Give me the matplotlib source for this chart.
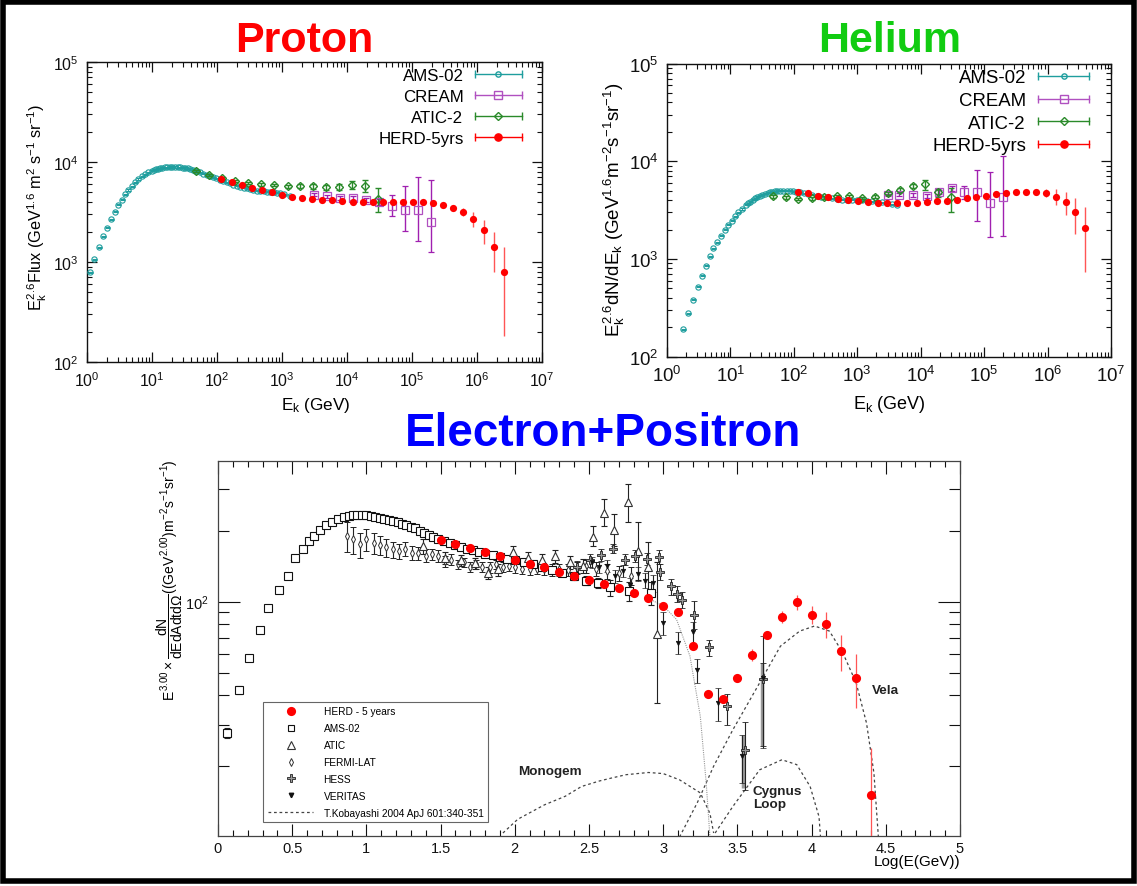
import numpy as np
import matplotlib
matplotlib.use("Agg")
import matplotlib.pyplot as plt
from matplotlib.lines import Line2D
from matplotlib.legend_handler import HandlerLine2D
from matplotlib.patches import Rectangle
from matplotlib.ticker import LogLocator, LogFormatterMathtext, MultipleLocator, FormatStrFormatter, NullFormatter

plt.rcParams['font.family'] = ['Liberation Sans', 'DejaVu Sans']
plt.rcParams['mathtext.fontset'] = 'custom'
plt.rcParams['mathtext.rm'] = 'Liberation Sans'
plt.rcParams['mathtext.it'] = 'Liberation Sans'
plt.rcParams['mathtext.sf'] = 'Liberation Sans'
plt.rcParams['mathtext.bf'] = 'Liberation Sans:bold'

# ---------------- Proton data ----------------
p_ams_E = [1.1, 1.27, 1.53, 1.74, 2.04, 2.36, 2.66, 3.03, 3.4, 3.84, 4.32, 4.87, 5.48, 6.16, 6.93, 7.8, 8.77,
           9.9, 10.7, 11.6, 12.4, 13.3, 14.5, 15.8, 17.2, 18.9, 20.6, 22.6, 24.7, 27, 29.5, 32.2, 35.2, 38.5,
           42, 46, 50, 54.6, 61, 69.6, 78, 87.7, 98, 111, 124, 141, 158, 179, 202, 227, 256, 288, 325, 363,
           410, 461, 520, 585, 660, 740, 830, 938, 1080, 1350]
p_ams_F = [790, 1070, 1410, 1810, 2200, 2690, 3180, 3720, 4200, 4750, 5250, 5710, 6270, 6760, 7190, 7530, 7890,
           8190, 8330, 8450, 8560, 8650, 8780, 8850, 8890, 8910, 8920, 8910, 8890, 8850, 8790, 8710, 8620, 8510,
           8350, 8190, 8040, 7890, 7650, 7470, 7250, 7030, 6840, 6650, 6450, 6270, 6100, 5930, 5790, 5660, 5550,
           5450, 5340, 5250, 5180, 5130, 5080, 5050, 5000, 4970, 4920, 4860, 4750, 4600]

p_cream_E = [3060, 4910, 7700, 12400, 19800, 30700, 49300, 77100, 124000, 193000]
p_cream_F = [4710, 4540, 4370, 4370, 4170, 3950, 3600, 3330, 3330, 2490]
p_cream_lo = [4550, 4390, 4200, 4180, 3950, 3700, 2900, 2060, 1630, 1250]
p_cream_hi = [4870, 4700, 4550, 4570, 4400, 4220, 4680, 5710, 7030, 6610]

p_atic_E = [47.7, 76, 121, 190, 305, 478, 758, 1220, 1900, 3020, 4780, 7520, 12000, 19000, 30000]
p_atic_F = [8070, 7410, 6920, 6510, 6170, 5980, 5890, 5710, 5710, 5710, 5580, 5580, 5890, 5710, 4270]
p_atic_lo = [7900, 7250, 6750, 6350, 6000, 5800, 5700, 5500, 5450, 5400, 5250, 5200, 5370, 4970, 3190]
p_atic_hi = [8240, 7570, 7090, 6670, 6340, 6160, 6080, 5920, 5970, 6020, 5910, 5960, 6500, 6650, 5460]

p_herd_E = [117, 168, 240, 343, 490, 700, 1000, 1430, 2040, 2920, 4170, 5960, 8510, 12200, 17400, 24800,
            35500, 50700, 72400, 104000, 148000, 211000, 302000, 432000, 617000, 881000, 1260000, 1800000,
            2570000]
p_herd_F = [6760, 6360, 5930, 5500, 5210, 4970, 4710, 4500, 4370, 4270, 4200, 4140, 4070, 4010, 4010, 4010,
            4010, 3970, 4010, 4010, 4010, 3920, 3720, 3490, 3190, 2690, 2090, 1420, 789]
p_herd_elo = [60, 60, 55, 50, 50, 45, 45, 45, 45, 45, 45, 45, 45, 45, 50, 50, 55, 60, 70, 90, 110, 150, 170,
              230, 330, 470, 580, 620, 607]
p_herd_ehi = [60, 60, 55, 50, 50, 45, 45, 45, 45, 45, 45, 45, 45, 45, 50, 50, 55, 60, 70, 90, 110, 150, 170,
              225, 300, 500, 560, 590, 611]

# ---------------- Helium data ----------------
h_ams_E = [1.77, 2.17, 2.54, 3.05, 3.52, 4.08, 4.71, 5.37, 6.22, 7.11, 8.22, 9.27, 10.5, 11.8, 13.3, 15.1,
           17.4, 18.8, 20.4, 22.3, 24.4, 26.7, 29.3, 32, 35.1, 38.5, 42.2, 46, 50.5, 55, 60.6, 68, 77.3, 87,
           98.2, 110, 125, 145, 169, 195, 230, 270, 330, 400, 475, 570, 683, 820, 982, 1180, 1410, 1700, 2030,
           2450, 2920, 3500, 4290]
h_ams_F = [192, 278, 383, 521, 675, 854, 1065, 1288, 1483, 1734, 1996, 2230, 2466, 2735, 3006, 3250, 3572,
           3720, 3861, 4020, 4180, 4320, 4445, 4560, 4660, 4750, 4820, 4880, 4930, 4970, 5000, 5010, 5000,
           4970, 4930, 4880, 4820, 4730, 4630, 4540, 4445, 4360, 4275, 4190, 4110, 4060, 4020, 4020, 4020,
           3990, 3955, 3910, 3861, 3800, 3742, 3650, 3572]

h_cream_E = [3100, 4610, 7670, 12500, 19700, 30900, 48400, 78500, 124000, 195000]
h_cream_F = [4520, 4550, 4520, 4415, 4890, 5300, 4820, 4820, 3742, 4275]
h_cream_lo = [4380, 4400, 4350, 4240, 4650, 5000, 4110, 2466, 1667, 1706]
h_cream_hi = [4660, 4700, 4690, 4590, 5130, 5600, 5540, 8200, 7710, 11250]

h_atic_E = [47.5, 75.3, 118, 191, 299, 474, 751, 1175, 1910, 3030, 4730, 7500, 11700, 19000, 29800]
h_atic_F = [4380, 4275, 4110, 4180, 4275, 4380, 4380, 4210, 4350, 4700, 5080, 5540, 5860, 4820, 4275]
h_atic_lo = [4250, 4150, 3990, 4050, 4150, 4250, 4250, 4080, 4200, 4530, 4850, 5270, 5115, 4275, 3055]
h_atic_hi = [4510, 4400, 4230, 4310, 4400, 4510, 4510, 4340, 4500, 4870, 5310, 5810, 6490, 5210, 5300]

h_herd_E = [118, 169, 242, 346, 495, 710, 1016, 1455, 2084, 2985, 4276, 6124, 8770, 12560, 17990, 25760,
            36900, 52840, 75680, 108400, 155200, 222300, 318400, 456000, 653100, 935400, 1340000, 1919000,
            2748000, 3936000]
h_herd_F = [4820, 4700, 4445, 4275, 4110, 4020, 3925, 3800, 3770, 3742, 3742, 3770, 3770, 3830, 3890, 3955,
            4020, 4180, 4275, 4380, 4590, 4700, 4820, 4890, 4890, 4740, 4350, 3800, 3006, 2060]
h_herd_elo = [50, 50, 50, 50, 50, 50, 50, 50, 50, 50, 50, 50, 50, 50, 50, 50, 50, 50, 60, 70, 100, 140, 190,
              240, 330, 460, 780, 980, 1203, 1319]
h_herd_ehi = [50, 50, 50, 50, 50, 50, 50, 50, 50, 50, 50, 50, 50, 50, 50, 50, 50, 50, 60, 70, 100, 140, 190,
              240, 330, 520, 860, 1020, 1174, 1320]

# ---------------- Electron + positron data (x = log10 E/GeV) ----------------
e_herd_x = [1.5, 1.6, 1.7, 1.8, 1.9, 2.0, 2.1, 2.2, 2.3, 2.4, 2.5, 2.6, 2.7, 2.8, 2.9, 3.0, 3.1, 3.2, 3.3, 3.4,
            3.5, 3.6, 3.7, 3.8, 3.9, 4.0, 4.1, 4.2, 4.3, 4.4]
e_herd_y = [183, 175, 169, 163, 156, 151, 145, 140, 134, 128.5, 123.6, 118.9, 114.3, 109.2, 103.8, 95.8, 90.3,
            64.7, 40.7, 38.7, 47.3, 59.5, 72.4, 85.9, 99.4, 87.4, 80, 61.5, 47.6, 15.1]
e_herd_elo = [2, 2, 2, 2, 2, 2, 2, 2, 2, 2, 2, 2, 2, 2, 2, 2, 2, 1.5, 1, 1, 1.8, 3.5, 2, 5, 7.4, 7.4, 9.7,
              10.8, 12.2, 5.1]
e_herd_ehi = [2, 2, 2, 2, 2, 2, 2, 2, 2, 2, 2, 2, 2, 2, 2, 2, 2, 1.5, 1, 1, 1.8, 3.5, 2, 5, 7, 8.4, 10.3,
              10.6, 12.1, 8.7]

e_ams_x = [0.06, 0.14, 0.21, 0.28, 0.34, 0.41, 0.47, 0.52, 0.57, 0.61, 0.65, 0.69, 0.73, 0.77, 0.81, 0.85,
           0.88, 0.91, 0.94, 0.97, 1.0, 1.03, 1.06, 1.09, 1.12, 1.15, 1.18, 1.21, 1.24, 1.27, 1.30, 1.33, 1.36,
           1.39, 1.42, 1.45, 1.48, 1.52, 1.56, 1.60, 1.64, 1.68, 1.72, 1.76, 1.80, 1.85, 1.90, 1.95, 2.00,
           2.06, 2.12, 2.18, 2.25, 2.32, 2.40, 2.48, 2.56, 2.64, 2.77, 2.92]
e_ams_y = [27.7, 42.1, 57.5, 75.5, 93.9, 112, 129, 153, 167, 181, 191, 201, 211, 218, 224, 228, 231, 233, 234,
           234, 233, 231, 229, 227, 225, 223, 220, 217, 214, 211, 208, 205, 200, 196, 192, 188, 185, 181, 177,
           174, 171, 168, 165, 162, 160, 158, 155, 152, 150, 147, 144, 141, 136, 132, 128, 123, 120, 115,
           111, 109]
e_ams_err = [1.3, 1.6, 1.8, 1.5, 1.5, 1.2, 1, 1, 1, 1, 1, 1, 1, 1, 1, 1, 1, 1, 1, 1, 1, 1, 1, 1, 1, 1, 1, 1,
             1, 1, 1, 1, 1, 1, 1, 1, 1, 1, 1.5, 1.5, 1.5, 1.5, 1.5, 2, 2, 2, 2, 2, 2.5, 2.5, 3, 3, 3, 3.5, 4,
             5, 6, 9, 10, 12]

e_atic_x = [1.38, 1.53, 1.64, 1.73, 1.82, 1.89, 1.99, 2.09, 2.18, 2.27, 2.37, 2.46, 2.53, 2.60, 2.67, 2.76,
            2.83, 2.90, 2.96]
e_atic_y = [172, 154, 150, 146, 133, 137, 162, 154, 151, 156, 147, 142, 189, 237, 202, 266, 164, 140, 73]
e_atic_elo = [12, 9, 8, 8, 8, 8, 10, 9, 9, 10, 10, 10, 17, 27, 30, 49, 40, 35, 36]
e_atic_ehi = [12, 9, 8, 8, 8, 8, 10, 9, 9, 10, 10, 10, 20, 37, 33, 49, 53, 40, 74]

e_fermi_x = [0.87, 0.91, 0.96, 1.00, 1.05, 1.09, 1.13, 1.18, 1.22, 1.26, 1.31, 1.35, 1.40, 1.44, 1.48, 1.53,
             1.57, 1.62, 1.66, 1.70, 1.74, 1.78, 1.83, 1.87, 1.92, 1.96, 2.00, 2.05, 2.10, 2.15, 2.20, 2.25,
             2.30, 2.36, 2.42, 2.48, 2.55, 2.62, 2.70, 2.78]
e_fermi_y = [191, 184, 175, 184, 178, 174, 170, 167, 164, 168, 161, 161, 157, 159, 156, 149, 151, 144, 147,
             141, 144, 141, 140, 144, 141, 142, 140, 138, 137, 138, 137, 136, 137, 136, 139, 142, 138, 135,
             132, 129]
e_fermi_err = [28, 24, 21, 20, 18, 16, 15, 13, 12, 12, 11, 10, 10, 9, 9, 8, 8, 7, 7, 7, 7, 7, 7, 7, 7, 7, 7,
               7, 7, 7, 7, 8, 8, 8, 8, 9, 9, 10, 10, 11]

e_hess_x = [2.42, 2.51, 2.58, 2.66, 2.74, 2.81, 2.89, 2.97, 2.98, 3.05, 3.09, 3.13, 3.21, 3.31, 3.43, 3.55, 3.67]
e_hess_y = [141, 150, 158, 168, 151, 157, 152, 155, 134, 116, 108, 102, 88, 64, 36, 23.5, 47]
e_hess_elo = [8, 9, 9, 7, 8, 9, 9, 10, 10, 9, 8, 8, 11.5, 5, 6, 7.6, 22.7]
e_hess_ehi = [8, 9, 9, 7, 8, 9, 9, 10, 10, 9, 8, 8, 13, 5, 4.4, 7.3, 8]
e_hess_sys_x = [3.535, 3.665]
e_hess_sys_lo = [16.1, 24.3]
e_hess_sys_hi = [27.0, 55.0]

e_ver_x = [2.52, 2.57, 2.62, 2.675, 2.73, 2.775, 2.83, 2.88, 2.93, 3.0, 3.1, 3.2, 3.23, 3.37, 3.53, 3.67]
e_ver_y = [147, 140, 142, 128, 135, 118, 131, 123, 120, 81, 67, 74, 51, 37, 22, 47.5]
e_ver_elo = [8, 8, 8, 8, 8, 8, 9, 9, 10, 9, 7, 8, 6, 6, 5, 23.5]
e_ver_ehi = [8, 8, 8, 8, 8, 8, 9, 9, 10, 9, 7, 8, 6, 6, 5, 24]

kob_mono_x = [1.92, 2.02, 2.2, 2.34, 2.45, 2.57, 2.65, 2.75, 2.9, 3.0, 3.11, 3.25, 3.315, 3.34]
kob_mono_y = [10.4, 11.9, 13.7, 14.9, 16.4, 17.3, 17.8, 18.4, 18.8, 18.6, 17.5, 15.4, 12.6, 10.4]
kob_vela_x = [3.11, 3.23, 3.34, 3.47, 3.65, 3.79, 3.92, 4.02, 4.12, 4.21, 4.30, 4.37, 4.42, 4.45]
kob_vela_y = [10, 14.0, 20, 28.6, 45.2, 64.7, 75, 78.8, 75, 60.7, 45.2, 30.5, 18.7, 10]
kob_cyg_x = [3.35, 3.47, 3.65, 3.80, 3.90, 3.99, 4.05, 4.06]
kob_cyg_y = [10.4, 13.5, 19.3, 21.3, 20.3, 16.4, 12.2, 10]
kob_tot_x = [2.93, 3.0, 3.09, 3.18, 3.25, 3.29, 3.315]
kob_tot_y = [101, 96, 84, 58.8, 32.6, 16.9, 10]

# ---------------- colours ----------------
C_AMS = '#1f9e9e'
C_CREAM = '#a020b0'
C_ATIC = '#2a8a2a'
C_HERD = '#ff0000'
C_HERD_E = '#ff5555'

W, H = 1137, 887
fig = plt.figure(figsize=(W / 100, H / 100), dpi=100)
fig.patch.set_facecolor('white')


def px_axes(l, t, r, b):
    return fig.add_axes([l / W, 1 - b / H, (r - l) / W, (b - t) / H])


def setup_gp(ax, fs):
    ax.set_xscale('log')
    ax.set_yscale('log')
    ax.set_xlim(1, 1e7)
    ax.set_ylim(1e2, 1e5)
    for axis in (ax.xaxis, ax.yaxis):
        axis.set_major_locator(LogLocator(base=10, numticks=20))
        axis.set_minor_locator(LogLocator(base=10, subs=np.arange(2, 10), numticks=20))
        axis.set_major_formatter(LogFormatterMathtext())
        axis.set_minor_formatter(NullFormatter())
    ax.tick_params(which='both', direction='in', top=True, right=True, labelsize=fs, colors='#111')
    ax.tick_params(which='major', length=7, width=0.9)
    ax.tick_params(which='minor', length=3.5, width=0.8)
    ax.tick_params(axis='x', pad=6)
    ax.tick_params(axis='y', pad=6)
    for s in ax.spines.values():
        s.set_linewidth(1.0)
        s.set_color('#111')


def gp_handle(color, marker, mfc, ms):
    caps = Line2D([], [], color=color, lw=1.0, marker='|', ms=6, mew=1.0)
    mk = Line2D([], [], color=color, lw=0, marker=marker, mfc=mfc, mec=color, ms=ms, mew=1.0)
    return (caps, mk)


def gp_panel(ax, ams, cream, atic, herd, fs_leg, leg_anchor, hl, lsp):
    (aE, aF), (cE, cF, clo, chi), (tE, tF, tlo, thi), (hE, hF, hlo, hhi) = ams, cream, atic, herd
    aF = np.array(aF)
    ax.errorbar(aE, aF, yerr=aF * 0.012, fmt='o', ms=3.8, mfc='none', mec=C_AMS, mew=0.8,
                ecolor=C_AMS, elinewidth=0.7, capsize=1.8, zorder=3)
    cF = np.array(cF)
    ax.errorbar(cE, cF, yerr=[cF - np.array(clo), np.array(chi) - cF], fmt='s', ms=5.5, mfc='none',
                mec='#b050c0', mew=0.9, ecolor=C_CREAM, elinewidth=1.0, capsize=2.5, zorder=4)
    tF = np.array(tF)
    ax.errorbar(tE, tF, yerr=[tF - np.array(tlo), np.array(thi) - tF], fmt='D', ms=3.8, mfc='none',
                mec=C_ATIC, mew=1.0, ecolor=C_ATIC, elinewidth=1.0, capsize=2.5, zorder=4)
    ax.errorbar(hE, hF, yerr=[hlo, hhi], fmt='o', ms=5.2, mfc=C_HERD, mec=C_HERD, mew=0,
                ecolor=C_HERD_E, elinewidth=1.0, capsize=2.5, zorder=5)
    handles = [gp_handle(C_AMS, 'o', 'none', 3.8), gp_handle('#b050c0', 's', 'none', 5.5),
               gp_handle(C_ATIC, 'D', 'none', 3.8), gp_handle(C_HERD, 'o', C_HERD, 5.2)]
    hmap = {h[0]: HandlerLine2D(numpoints=2, marker_pad=0) for h in handles}
    ax.legend(handles, ['AMS-02', 'CREAM', 'ATIC-2', 'HERD-5yrs'], loc='upper right',
              bbox_to_anchor=leg_anchor, borderaxespad=0, borderpad=0, frameon=False,
              markerfirst=False, numpoints=1, fontsize=fs_leg, handlelength=hl, handletextpad=0.65,
              labelspacing=lsp, handler_map=hmap)


def set_label_center(axis, x, y):
    axis.label.set_ha('center')
    axis.label.set_va('center')
    axis.set_label_coords(x, y)


# ---------------- Proton panel ----------------
axp = px_axes(87, 63, 542, 363)
setup_gp(axp, 11.4)
gp_panel(axp, (p_ams_E, p_ams_F), (p_cream_E, p_cream_F, p_cream_lo, p_cream_hi),
         (p_atic_E, p_atic_F, p_atic_lo, p_atic_hi), (p_herd_E, p_herd_F, p_herd_elo, p_herd_ehi),
         12.2, (0.956, 0.98), 2.8, 0.36)
axp.set_ylabel(r'$E_k^{2.6}$Flux (GeV$^{1.6}$ m$^2$ s$^{-1}$ sr$^{-1}$)', fontsize=11.7)
set_label_center(axp.yaxis, -0.108, 0.517)
axp.set_xlabel(r'E$_k$ (GeV)', fontsize=12.3)
set_label_center(axp.xaxis, 0.503, -0.143)

# ---------------- Helium panel ----------------
axh = px_axes(667, 64.6, 1111, 357.7)
setup_gp(axh, 13.4)
gp_panel(axh, (h_ams_E, h_ams_F), (h_cream_E, h_cream_F, h_cream_lo, h_cream_hi),
         (h_atic_E, h_atic_F, h_atic_lo, h_atic_hi), (h_herd_E, h_herd_F, h_herd_elo, h_herd_ehi),
         13.4, (0.951, 0.98), 2.75, 0.3)
axh.set_ylabel(r'$E_k^{2.6}$dN/dE$_k$ (GeV$^{1.6}$m$^{-2}$s$^{-1}$sr$^{-1}$)', fontsize=13.5)
set_label_center(axh.yaxis, -0.119, 0.504)
axh.set_xlabel(r'E$_k$ (GeV)', fontsize=13)
set_label_center(axh.xaxis, 0.502, -0.161)

# ---------------- Electron + positron panel ----------------
axe = px_axes(218, 462, 960, 837)
axe.set_yscale('log')
axe.set_xlim(0, 5)
axe.set_ylim(10.1, 396)
axe.xaxis.set_major_locator(MultipleLocator(0.5))
axe.xaxis.set_minor_locator(MultipleLocator(0.1))
axe.xaxis.set_major_formatter(FormatStrFormatter('%g'))
axe.yaxis.set_major_locator(LogLocator(base=10, numticks=10))
axe.yaxis.set_minor_locator(LogLocator(base=10, subs=np.arange(2, 10), numticks=10))
axe.yaxis.set_major_formatter(LogFormatterMathtext())
axe.yaxis.set_minor_formatter(NullFormatter())
axe.tick_params(which='both', direction='in', top=True, right=True, labelsize=10.5, colors='#111')
axe.tick_params(axis='x', which='major', length=9, width=0.8, pad=3.5)
axe.tick_params(axis='x', which='minor', length=4.5, width=0.8)
axe.tick_params(axis='y', which='major', length=16, width=0.8, pad=7)
axe.tick_params(axis='y', which='minor', length=8, width=0.8)
for s in axe.spines.values():
    s.set_linewidth(0.9)
    s.set_color('#444')

kls = (0, (2.2, 2.2))
axe.plot(kob_mono_x, kob_mono_y, color='#444', lw=0.9, ls=kls, zorder=1)
axe.plot(kob_vela_x, kob_vela_y, color='#444', lw=0.9, ls=kls, zorder=1)
axe.plot(kob_cyg_x, kob_cyg_y, color='#444', lw=0.9, ls=kls, zorder=1)
axe.plot(kob_tot_x, kob_tot_y, color='#999', lw=0.8, ls=(0, (1, 1)), zorder=1)

axe.vlines(e_hess_sys_x, e_hess_sys_lo, e_hess_sys_hi, color='#999', lw=2.5, zorder=2)

ek = dict(ecolor='#222', elinewidth=0.8, capsize=2, capthick=0.8, zorder=3)
axe.errorbar(e_fermi_x, e_fermi_y, yerr=e_fermi_err, fmt='d', ms=4, mfc='white', mec='#333', mew=0.7, **ek)
axe.errorbar(e_ams_x, e_ams_y, yerr=e_ams_err, fmt='s', ms=5.5, mfc='white', mec='#111', mew=0.8, **ek)
axe.errorbar(e_atic_x, e_atic_y, yerr=[e_atic_elo, e_atic_ehi], fmt='^', ms=6, mfc='white', mec='#333',
             mew=0.8, **ek)
axe.errorbar(e_hess_x, e_hess_y, yerr=[e_hess_elo, e_hess_ehi], fmt='P', ms=5.5, mfc='#999', mec='#222',
             mew=0.6, **ek)
axe.errorbar(e_ver_x, e_ver_y, yerr=[e_ver_elo, e_ver_ehi], fmt='v', ms=3.2, mfc='#111', mec='#111',
             mew=0.5, **ek)
axe.errorbar(e_herd_x, e_herd_y, yerr=[e_herd_elo, e_herd_ehi], fmt='o', ms=6.6, mfc='#ff0000', mec='#ff0000',
             mew=0, ecolor='#ff5555', elinewidth=0.9, capsize=2, capthick=0.9, zorder=6)

axe.text(2.02, 19.0, 'Monogem', fontsize=9.7, fontweight='bold', ha='left', va='center', color='#222')
axe.text(3.605, 14.7, 'Cygnus\nLoop', fontsize=9.7, fontweight='bold', ha='left', va='center',
         color='#222', linespacing=1.1)
axe.text(4.405, 42.1, 'Vela', fontsize=9.7, fontweight='bold', ha='left', va='center', color='#222')

eh = [Line2D([], [], ls='none', marker='o', mfc='#ff0000', mec='#ff0000', ms=6.6, mew=0),
      Line2D([], [], ls='none', marker='s', mfc='white', mec='#111', ms=5, mew=0.8),
      Line2D([], [], ls='none', marker='^', mfc='white', mec='#333', ms=5.5, mew=0.8),
      Line2D([], [], ls='none', marker='d', mfc='white', mec='#333', ms=4, mew=0.7),
      Line2D([], [], ls='none', marker='P', mfc='#999', mec='#222', ms=5.5, mew=0.6),
      Line2D([], [], ls='none', marker='v', mfc='#111', mec='#111', ms=3.2),
      Line2D([], [], color='#444', lw=0.9, ls=kls)]
el = ['HERD - 5 years', 'AMS-02', 'ATIC', 'FERMI-LAT', 'HESS', 'VERITAS', 'T.Kobayashi 2004 ApJ 601:340-351']
leg = axe.legend(eh, el, loc='lower left', bbox_to_anchor=(0.061, 0.0365), borderaxespad=0, borderpad=0.45,
                 fontsize=7.3, handlelength=4.5, handletextpad=1.0, labelspacing=0.68, numpoints=1,
                 fancybox=False, framealpha=1, edgecolor='#666')
leg.get_frame().set_linewidth(0.8)

axe.set_ylabel(r'$E^{3.00}\times\dfrac{dN}{dEdAdtd\Omega}((GeV^{2.00})m^{-2}s^{-1}sr^{-1})$', fontsize=10)
set_label_center(axe.yaxis, -0.0647, 0.685)
axe.set_xlabel('Log(E(GeV))', fontsize=11)
axe.xaxis.label.set_ha('right')
axe.xaxis.label.set_va('center')
axe.xaxis.set_label_coords(1.0, -0.067)

# ---------------- titles and border ----------------
fig.text(304 / W, 1 - 52 / H, 'Proton', color='#ff0000', fontsize=31, fontweight='bold', ha='center',
         va='baseline')
fig.text(890 / W, 1 - 52 / H, 'Helium', color='#11cc11', fontsize=31, fontweight='bold', ha='center',
         va='baseline')
fig.text(603 / W, 1 - 446 / H, 'Electron+Positron', color='#0000ff', fontsize=33, fontweight='bold',
         ha='center', va='baseline')

fig.patches.append(Rectangle((3 / W, 5 / H), (W - 6.5) / W, (H - 7.5) / H, transform=fig.transFigure,
                             fill=False, edgecolor='black', lw=4, zorder=10))

fig.savefig('out.png', dpi=100, facecolor='white')
